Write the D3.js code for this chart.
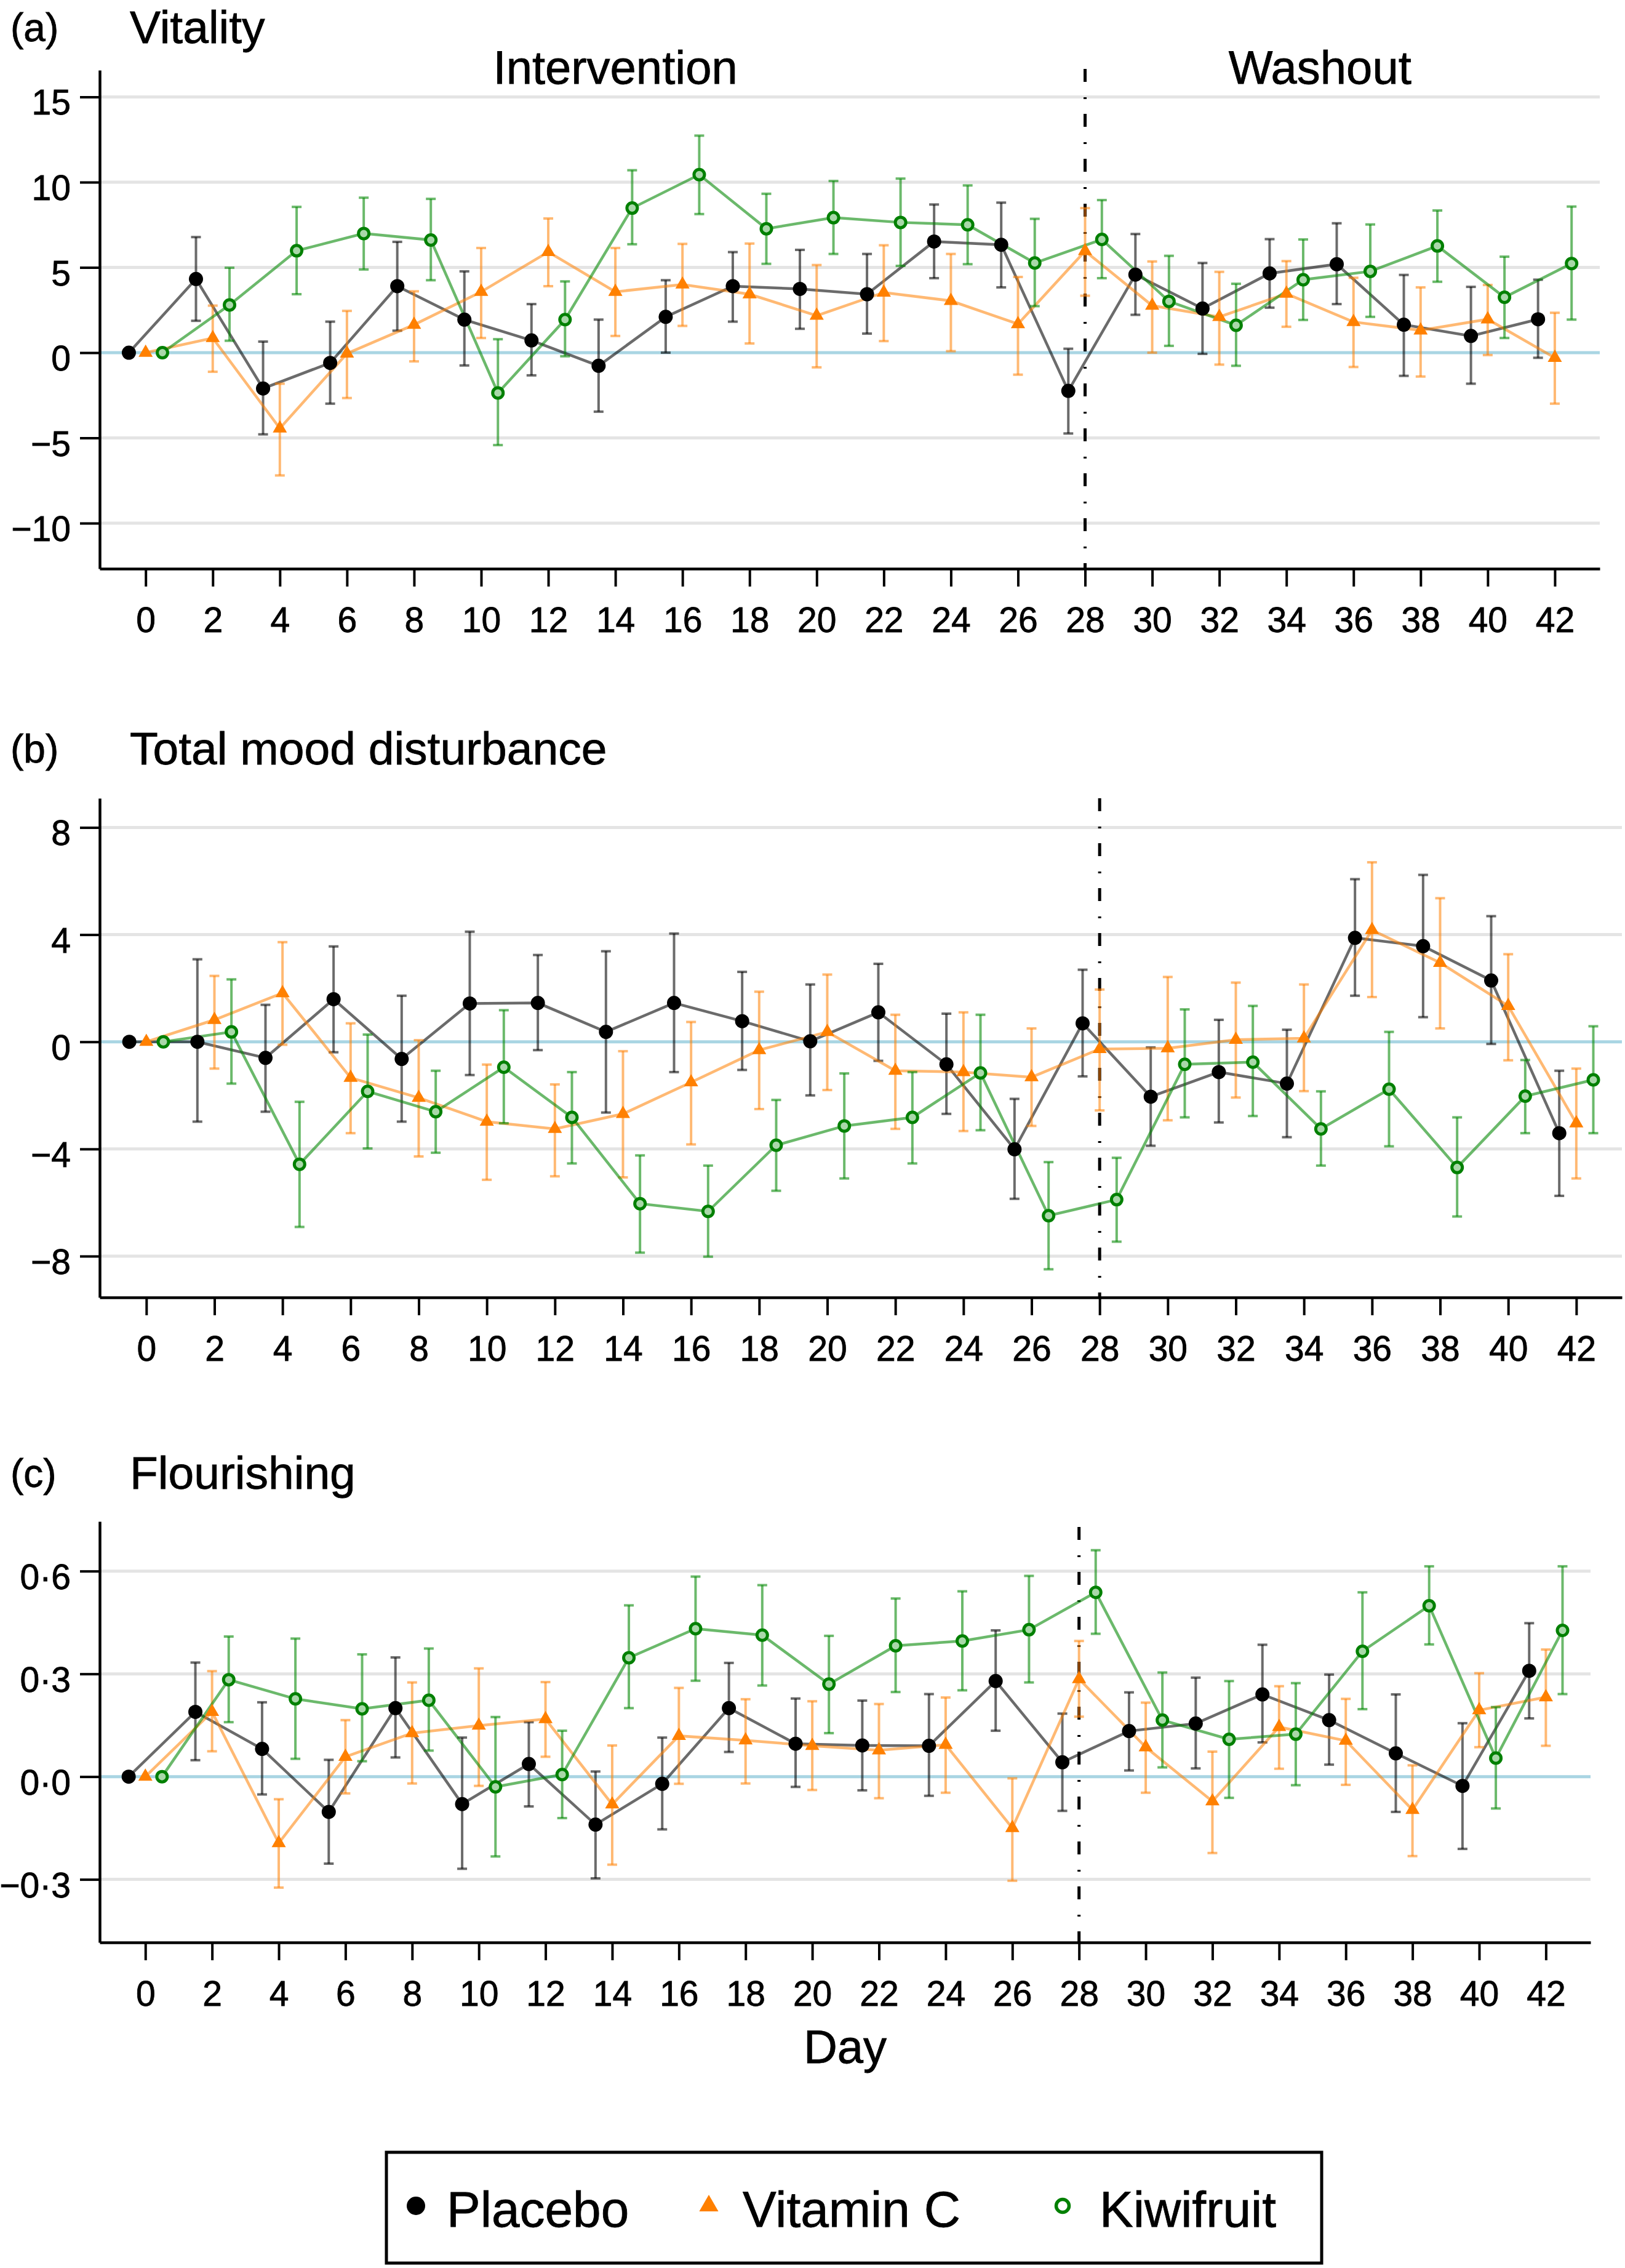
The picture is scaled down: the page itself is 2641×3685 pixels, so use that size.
<!DOCTYPE html>
<html>
<head>
  <meta charset="utf-8">
  <title>Vitality, mood disturbance and flourishing by day</title>
  <script src="https://cdn.jsdelivr.net/npm/d3@7"></script>
  <style>
    body { margin: 0; background: #fff; }
    text { font-family: "Liberation Sans", Arial, Helvetica, sans-serif; fill: #000;
           stroke: #000; stroke-width: 0.8px; }
  </style>
</head>
<body>
<script>
  // ---- data ----
  var days = [0, 2, 4, 6, 8, 10, 12, 14, 16, 18, 20, 22, 24, 26, 28, 30, 32, 34, 36, 38, 40, 42];
  var groups = ["Placebo", "Vitamin C", "Kiwifruit"];
  var groupOffset = [-0.5, 0, 0.5];   // dodge on the day axis

  // (a) Vitality
  var vitTicks = [15, 10, 5, 0, -5, -10];
  var vitPlacebo = [0, 4.32, -2.1, -0.6, 3.9, 1.94, 0.72, -0.77, 2.1, 3.9, 3.74, 3.43, 6.52, 6.33, -2.24, 4.58, 2.59, 4.65, 5.19, 1.64, 0.98, 1.96];
  var vitPlaceboLo = [null, 1.87, -4.79, -2.99, 1.29, -0.75, -1.33, -3.46, 0, 1.82, 1.4, 1.12, 4.37, 3.83, -4.74, 2.22, -0.07, 2.64, 2.85, -1.36, -1.82, -0.3];
  var vitPlaceboHi = [null, 6.78, 0.65, 1.82, 6.5, 4.77, 2.85, 1.94, 4.25, 5.9, 6.03, 5.79, 8.69, 8.8, 0.23, 6.96, 5.26, 6.66, 7.59, 4.56, 3.86, 4.28];
  var vitVitC = [0, 0.86, -4.44, -0.05, 1.64, 3.57, 5.91, 3.57, 4.0, 3.43, 2.17, 3.53, 3.04, 1.68, 5.96, 2.76, 2.1, 3.46, 1.8, 1.31, 1.96, -0.3];
  var vitVitCLo = [null, -1.12, -7.2, -2.66, -0.51, 0.86, 3.9, 0.98, 1.57, 0.54, -0.86, 0.68, 0.09, -1.29, 3.34, 0, -0.7, 1.52, -0.84, -1.4, -0.14, -2.99];
  var vitVitCHi = [null, 2.76, -1.82, 2.45, 3.6, 6.14, 7.87, 6.14, 6.38, 6.4, 5.14, 6.3, 5.79, 4.44, 8.48, 5.35, 4.74, 5.37, 4.39, 3.83, 3.97, 2.34];
  var vitKiwi = [0, 2.8, 5.98, 6.99, 6.61, -2.36, 1.94, 8.48, 10.44, 7.27, 7.92, 7.64, 7.5, 5.26, 6.64, 3.01, 1.61, 4.28, 4.77, 6.26, 3.25, 5.23];
  var vitKiwiLo = [null, 0.7, 3.43, 4.88, 4.25, -5.42, -0.21, 6.36, 8.13, 5.21, 5.79, 5.09, 5.19, 2.73, 4.37, 0.4, -0.77, 1.92, 2.1, 4.16, 0.86, 1.94];
  var vitKiwiHi = [null, 4.98, 8.55, 9.09, 9.02, 0.79, 4.18, 10.7, 12.73, 9.32, 10.07, 10.21, 9.81, 7.85, 8.95, 5.68, 4.04, 6.64, 7.52, 8.34, 5.63, 8.57];

  // (b) Total mood disturbance
  var tmdTicks = [8, 4, 0, -4, -8];
  var tmdPlacebo = [0, 0, -0.6, 1.59, -0.64, 1.43, 1.45, 0.37, 1.45, 0.77, 0.02, 1.1, -0.84, -4.01, 0.69, -2.05, -1.13, -1.56, 3.88, 3.57, 2.29, -3.41];
  var tmdPlaceboLo = [null, -2.98, -2.61, -0.39, -2.98, -1.24, -0.31, -2.64, -1.13, -1.05, -2.0, -0.71, -2.69, -5.86, -1.29, -3.88, -3.01, -3.56, 1.72, 0.92, -0.08, -5.75];
  var tmdPlaceboHi = [null, 3.08, 1.38, 3.56, 1.72, 4.11, 3.24, 3.38, 4.04, 2.61, 2.14, 2.91, 1.05, -2.13, 2.69, -0.21, 0.82, 0.45, 6.07, 6.23, 4.69, -1.08];
  var tmdVitC = [0, 0.82, 1.82, -1.34, -2.09, -2.98, -3.25, -2.69, -1.51, -0.31, 0.37, -1.08, -1.13, -1.32, -0.27, -0.24, 0.08, 0.13, 4.17, 2.95, 1.34, -3.04];
  var tmdVitCLo = [null, -1.0, -0.11, -3.41, -4.28, -5.15, -5.02, -5.06, -3.83, -2.51, -1.8, -3.25, -3.33, -3.14, -2.56, -2.93, -2.08, -1.84, 1.67, 0.5, -0.69, -5.1];
  var tmdVitCHi = [null, 2.46, 3.72, 0.69, 0.06, -0.85, -1.59, -0.35, 0.74, 1.87, 2.51, 1.01, 1.1, 0.5, 1.95, 2.42, 2.21, 2.14, 6.7, 5.36, 3.27, -1.0];
  var tmdKiwi = [0, 0.37, -4.57, -1.85, -2.61, -0.95, -2.82, -6.04, -6.33, -3.86, -3.14, -2.82, -1.16, -6.49, -5.89, -0.84, -0.76, -3.25, -1.77, -4.69, -2.03, -1.42];
  var tmdKiwiLo = [null, -1.56, -6.91, -3.98, -4.14, -3.04, -4.54, -7.87, -8.02, -5.56, -5.1, -4.54, -3.3, -8.49, -7.46, -2.82, -2.77, -4.62, -3.9, -6.52, -3.41, -3.41];
  var tmdKiwiHi = [null, 2.33, -2.24, 0.27, -1.08, 1.18, -1.13, -4.24, -4.62, -2.17, -1.18, -1.13, 1.01, -4.49, -4.33, 1.21, 1.34, -1.85, 0.37, -2.82, -0.68, 0.58];

  // (c) Flourishing
  var flTicks = [0.6, 0.3, 0, -0.3];
  var flPlacebo = [0, 0.189, 0.081, -0.103, 0.2, -0.08, 0.037, -0.14, -0.021, 0.2, 0.096, 0.091, 0.09, 0.279, 0.042, 0.133, 0.155, 0.24, 0.165, 0.068, -0.027, 0.309];
  var flPlaceboLo = [null, 0.048, -0.052, -0.254, 0.056, -0.269, -0.087, -0.297, -0.154, 0.072, -0.03, -0.04, -0.056, 0.134, -0.1, 0.018, 0.024, 0.1, 0.035, -0.103, -0.211, 0.17];
  var flPlaceboHi = [null, 0.333, 0.217, 0.049, 0.348, 0.114, 0.159, 0.015, 0.114, 0.332, 0.228, 0.222, 0.241, 0.427, 0.184, 0.246, 0.289, 0.385, 0.298, 0.24, 0.156, 0.448];
  var flVitC = [0, 0.189, -0.194, 0.058, 0.127, 0.149, 0.168, -0.081, 0.119, 0.106, 0.09, 0.077, 0.093, -0.15, 0.285, 0.086, -0.072, 0.145, 0.105, -0.097, 0.194, 0.232];
  var flVitCLo = [null, 0.074, -0.324, -0.049, -0.02, -0.027, 0.058, -0.257, -0.021, -0.02, -0.039, -0.063, -0.047, -0.304, 0.175, -0.047, -0.223, 0.023, -0.024, -0.232, 0.086, 0.09];
  var flVitCHi = [null, 0.308, -0.066, 0.165, 0.275, 0.316, 0.276, 0.091, 0.259, 0.226, 0.22, 0.212, 0.231, -0.005, 0.396, 0.216, 0.073, 0.264, 0.227, 0.033, 0.302, 0.371];
  var flKiwi = [0, 0.283, 0.227, 0.198, 0.223, -0.03, 0.006, 0.347, 0.432, 0.413, 0.27, 0.382, 0.396, 0.429, 0.538, 0.165, 0.109, 0.124, 0.366, 0.499, 0.054, 0.427];
  var flKiwiLo = [null, 0.159, 0.052, 0.045, 0.076, -0.233, -0.121, 0.2, 0.28, 0.266, 0.127, 0.247, 0.252, 0.275, 0.417, 0.027, -0.062, -0.025, 0.197, 0.386, -0.093, 0.241];
  var flKiwiHi = [null, 0.409, 0.403, 0.357, 0.374, 0.174, 0.134, 0.5, 0.584, 0.559, 0.411, 0.52, 0.541, 0.586, 0.661, 0.304, 0.279, 0.273, 0.538, 0.614, 0.203, 0.614];

  // ---- drawing ----
  var W = 2641, H = 3685;
  var lineColor = ["rgba(0,0,0,0.58)", "rgba(255,128,0,0.55)", "rgba(0,135,0,0.58)"];
  var markColor = ["#000", "#ff8000", "#008000"];

  var svg = d3.select("body").append("svg").attr("width", W).attr("height", H);

  var minus = function(s) { return s.replace("-", "\u2212"); };
  var intFmt = function(d) { return minus(String(d)); };
  var dotFmt = function(d) { return minus(d3.format(".1f")(d).replace(".", "\u00b7")); };

  var panels = [
    { tag: "(a)", title: "Vitality", titleY: 70, top: 114, bottom: 924, right: 2600, yDom: [-12.67, 16.57],
      ticks: vitTicks, fmt: intFmt, lineTop: 112,
      mean: [vitPlacebo, vitVitC, vitKiwi], lo: [vitPlaceboLo, vitVitCLo, vitKiwiLo], hi: [vitPlaceboHi, vitVitCHi, vitKiwiHi] },
    { tag: "(b)", title: "Total mood disturbance", titleY: 1242, top: 1297, bottom: 2108, right: 2636, yDom: [-9.54, 9.09],
      ticks: tmdTicks, fmt: intFmt, lineTop: 1297,
      mean: [tmdPlacebo, tmdVitC, tmdKiwi], lo: [tmdPlaceboLo, tmdVitCLo, tmdKiwiLo], hi: [tmdPlaceboHi, tmdVitCHi, tmdKiwiHi] },
    { tag: "(c)", title: "Flourishing", titleY: 2419, top: 2472, bottom: 3156, right: 2585, yDom: [-0.484, 0.745],
      ticks: flTicks, fmt: dotFmt, lineTop: 2481,
      mean: [flPlacebo, flVitC, flKiwi], lo: [flPlaceboLo, flVitCLo, flKiwiLo], hi: [flPlaceboHi, flVitCHi, flKiwiHi] }
  ];

  var left = 162;
  var xDom = [-1.37, 43.34];

  panels.forEach(function(p, pi) {
    var x = d3.scaleLinear().domain(xDom).range([left, p.right]);
    var y = d3.scaleLinear().domain(p.yDom).range([p.bottom, p.top]);
    var g = svg.append("g");

    // panel tag and title
    g.append("text").attr("x", 17).attr("y", p.titleY - 3).style("font-size", "64px").text(p.tag);
    g.append("text").attr("x", 211).attr("y", p.titleY).style("font-size", "75px").text(p.title);

    // gridlines
    g.selectAll(".grid").data(p.ticks.filter(function(t) { return t !== 0; }))
      .enter().append("line")
      .attr("x1", left).attr("x2", p.right)
      .attr("y1", function(d) { return y(d); }).attr("y2", function(d) { return y(d); })
      .attr("stroke", "#e4e4e4").attr("stroke-width", 5);
    g.append("line").attr("x1", left).attr("x2", p.right).attr("y1", y(0)).attr("y2", y(0))
      .attr("stroke", "#a9d5e3").attr("stroke-width", 5);

    // axes
    var yAxis = d3.axisLeft(y).tickValues(p.ticks).tickFormat(p.fmt).tickSize(32).tickSizeOuter(0).tickPadding(15);
    var ya = g.append("g").attr("transform", "translate(" + left + ",0)").call(yAxis);
    var xAxis = d3.axisBottom(x).tickValues(days).tickSize(29).tickSizeOuter(0).tickPadding(34);
    var xa = g.append("g").attr("transform", "translate(0," + p.bottom + ")").call(xAxis);
    [ya, xa].forEach(function(a) {
      a.select(".domain").attr("stroke", "#000").attr("stroke-width", 4.5);
      a.selectAll(".tick line").attr("stroke", "#000").attr("stroke-width", 4);
      a.selectAll(".tick text").style("font-size", "57px")
        .style("font-family", "'Liberation Sans', Arial, sans-serif").attr("fill", "#000");
    });
    ya.selectAll(".tick text").attr("dy", "0.5em");

    // vertical dash-dot line at day 28
    g.append("line").attr("x1", x(28)).attr("x2", x(28)).attr("y1", p.lineTop).attr("y2", p.bottom)
      .attr("stroke", "#000").attr("stroke-width", 5).attr("stroke-dasharray", "21,25,3,24");

    if (pi === 0) {
      g.append("text").attr("x", x(14)).attr("y", 136).attr("text-anchor", "middle")
        .style("font-size", "76px").text("Intervention");
      g.append("text").attr("x", x(35)).attr("y", 136).attr("text-anchor", "middle")
        .style("font-size", "76px").text("Washout");
    }

    // lines + error bars
    groups.forEach(function(name, gi) {
      var pts = days.map(function(d, i) {
        return { x: d + groupOffset[gi], v: p.mean[gi][i], lo: p.lo[gi][i], hi: p.hi[gi][i] };
      });
      var line = d3.line().x(function(d) { return x(d.x); }).y(function(d) { return y(d.v); });
      g.append("path").datum(pts).attr("d", line).attr("fill", "none")
        .attr("stroke", lineColor[gi]).attr("stroke-width", 4.5);

      var eb = g.append("g").attr("stroke", lineColor[gi]).attr("stroke-width", 4);
      pts.filter(function(d) { return d.lo !== null; }).forEach(function(d) {
        var cx = x(d.x);
        eb.append("line").attr("x1", cx).attr("x2", cx).attr("y1", y(d.lo)).attr("y2", y(d.hi));
        eb.append("line").attr("x1", cx - 8).attr("x2", cx + 8).attr("y1", y(d.lo)).attr("y2", y(d.lo));
        eb.append("line").attr("x1", cx - 8).attr("x2", cx + 8).attr("y1", y(d.hi)).attr("y2", y(d.hi));
      });
      p["pts" + gi] = pts;
    });

    // markers
    groups.forEach(function(name, gi) {
      var sel = g.selectAll(".m" + gi).data(p["pts" + gi]).enter();
      if (gi === 0) {
        sel.append("circle").attr("cx", function(d) { return x(d.x); }).attr("cy", function(d) { return y(d.v); })
          .attr("r", 11.5).attr("fill", markColor[0]);
      } else if (gi === 1) {
        sel.append("path").attr("d", d3.symbol().type(d3.symbolTriangle).size(230))
          .attr("transform", function(d) { return "translate(" + x(d.x) + "," + y(d.v) + ")"; })
          .attr("fill", markColor[1]);
      } else {
        sel.append("circle").attr("cx", function(d) { return x(d.x); }).attr("cy", function(d) { return y(d.v); })
          .attr("r", 8.5).attr("fill", "#a9d8a9").attr("stroke", markColor[2]).attr("stroke-width", 5);
      }
    });

    if (pi === 2) {
      g.append("text").attr("x", (left + p.right) / 2).attr("y", 3352).attr("text-anchor", "middle")
        .style("font-size", "76px").text("Day");
    }
  });

  // ---- legend ----
  var lg = svg.append("g");
  lg.append("rect").attr("x", 628).attr("y", 3497).attr("width", 1520).attr("height", 180)
    .attr("fill", "none").attr("stroke", "#000").attr("stroke-width", 5);
  var legX = [676, 1152, 1727];
  var legTextX = [726, 1207, 1787];
  groups.forEach(function(name, gi) {
    if (gi === 0) {
      lg.append("circle").attr("cx", legX[gi]).attr("cy", 3584).attr("r", 15).attr("fill", markColor[0]);
    } else if (gi === 1) {
      lg.append("path").attr("d", d3.symbol().type(d3.symbolTriangle).size(420))
        .attr("transform", "translate(" + legX[gi] + ",3584)").attr("fill", markColor[1]);
    } else {
      lg.append("circle").attr("cx", legX[gi]).attr("cy", 3584).attr("r", 10.5)
        .attr("fill", "#fff").attr("stroke", markColor[2]).attr("stroke-width", 5.5);
    }
    lg.append("text").attr("x", legTextX[gi]).attr("y", 3618).style("font-size", "82px").text(name);
  });
</script>
</body>
</html>
